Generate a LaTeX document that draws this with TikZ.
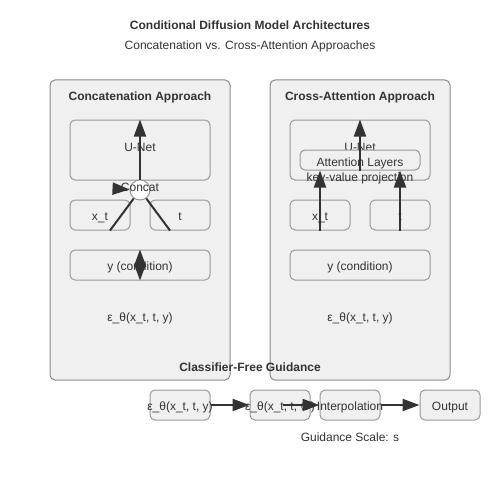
\documentclass[tikz,border=0pt]{standalone}
\usepackage{fontspec}
\setmainfont{Liberation Sans}
\newfontfamily\symfont{DejaVu Sans}
\usetikzlibrary{positioning,arrows.meta}
\definecolor{panelgray}{HTML}{F0F0F0}
\definecolor{edgegray}{HTML}{999999}
\definecolor{ink}{HTML}{333333}

\begin{document}
\begin{tikzpicture}[
        x=1pt, y=-1pt,
        every node/.style={
          text=ink,
          text height=10pt,
          text depth=0pt,
          font=\fontsize{12}{14}\selectfont
          },
        panel/.style={
          draw=edgegray!90!black,
          fill=panelgray,
          rounded corners=5pt,
          line width=1pt,
          minimum width=180pt,
          minimum height=300pt
          },
        box/.style={
          draw=edgegray,
          fill=panelgray,
          rounded corners=5pt,
          line width=1pt,
          minimum height=30pt
          },
        heading/.style={
          font=\fontsize{12}{14}\selectfont\bfseries
          },
        conn/.style={
          draw=ink,
          line width=2pt
          },
        >={Triangle[length=17pt,width=12pt]}
        ]
        \useasboundingbox[fill=white] (0,0) rectangle (500,500);
        \node[heading] (title) at (250,25) {Conditional Diffusion Model Architectures};
        \node (subtitle) at (250,45) {Concatenation vs. Cross-Attention Approaches};

        % concatenation panel
        \node[panel] (concatpanel) at (140,230) {};
        \node[heading] (concattitle) at (140,96) {Concatenation Approach};
        \node[box, minimum width=140pt, minimum height=60pt] (unetA) at (140,150) {};
        \node (unetAlbl) at (140,146) {U-Net};
        \node[box, minimum width=60pt] (xtA) at (100,215) {x\_t};
        \node[box, minimum width=60pt] (tA) at (180,215) {t};
        \node[box, minimum width=140pt] (yA) at (140,265) {y (condition)};
        \node (epsA) at (140,316) {ε\_θ(x\_t, t, y)};
        \coordinate (catin) at (120,189);
        \node[circle, draw=edgegray, fill=white, line width=1pt, minimum size=20pt, inner sep=0pt] (concat) at (140,190) {};
        \draw[conn, ->] (catin) -- (concat);
        \draw[conn] ([xshift=10pt]xtA.south) -- (concat);
        \draw[conn] ([xshift=-10pt]tA.south) -- (concat);
        \draw[conn, ->] (concat) -- (unetA.north);
        \draw[conn, <->] (yA.north) -- (yA.south);
        \node (concatlbl) at (140,186) {Concat};

        % cross-attention panel
        \node[panel] (crosspanel) at (360,230) {};
        \node[heading] (crosstitle) at (360,96) {Cross-Attention Approach};
        \node[box, minimum width=140pt, minimum height=60pt] (unetB) at (360,150) {};
        \node (unetBlbl) at (360,146) {U-Net};
        \node[box, minimum width=120pt, minimum height=20pt] (attn) at (360,160) {};
        \node (attnlbl) at (360,161) {Attention Layers};
        \node (kvlbl) at (360,176) {key-value projection};
        \node[box, minimum width=60pt] (xtB) at (320,215) {x\_t};
        \node[box, minimum width=60pt] (tB) at (400,215) {t};
        \node[box, minimum width=140pt] (yB) at (360,265) {y (condition)};
        \node (epsB) at (360,316) {ε\_θ(x\_t, t, y)};
        \foreach \src in {xtB,tB}
          \draw[conn, ->] (\src.south) -- (\src.south |- attn.south);
        \draw[conn, ->] (attn.south) -- (unetB.north);

        % guidance row
        \node[heading] (cfgtitle) at (250,366) {Classifier-Free Guidance};
        \node[box, minimum width=60pt, label=center:{ε\_θ(x\_t, t, y)}] (gcond) at (180,405) {};
        \node[box, minimum width=60pt, label=center:{ε\_θ(x\_t, t, {\symfont ∅})}] (guncond) at (280,405) {};
        \node[box, minimum width=60pt, label=center:{Interpolation}] (ginterp) at (350,405) {};
        \node[box, minimum width=60pt] (gout) at (450,405) {Output};
        \node (scalelbl) at (350,436) {Guidance Scale: s};
        \draw[conn, ->] (gcond) -- (guncond);
        \draw[conn, ->] ([xshift=3pt]guncond.center) -- (ginterp);
        \draw[conn, ->] (ginterp) -- (gout);
\end{tikzpicture}
\end{document}
